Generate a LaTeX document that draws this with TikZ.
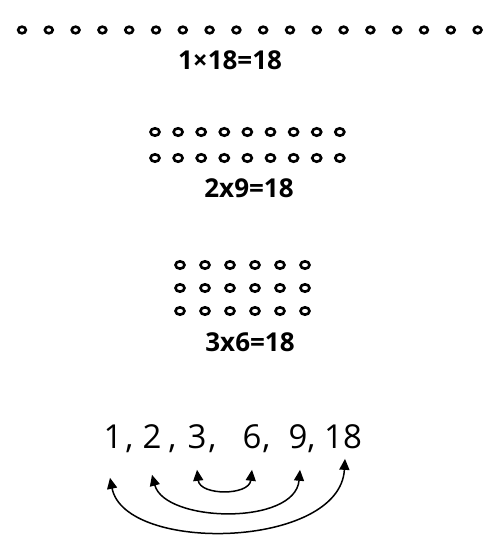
\documentclass[tikz,border=0pt]{standalone}
\usepackage{fontspec}
\setmainfont{Open Sans}
\usetikzlibrary{arrows.meta,positioning}

\begin{document}
\begin{tikzpicture}[x=1pt,y=-1pt,
    dot/.style={line width=2.6pt},
    eqn/.style={font=\fontsize{26}{28}\selectfont\bfseries,inner sep=0pt},
    num/.style={font=\fontsize{33}{35}\selectfont,anchor=base},
    link/.style={{Triangle[length=11pt,width=10pt]}-{Triangle[length=11pt,width=10pt]},line width=1.5pt}]
  \useasboundingbox (0,0) rectangle (487,536);
  % 1 x 18
  \foreach \i in {0,...,17}
    \draw[dot] (22+26.8*\i,30) ellipse (3.9 and 3.3);
  \node[eqn] (eq1) at (230,60) {1×18=18};
  % 2 x 9
  \foreach \r in {0,1}
    \foreach \i in {0,...,8}
      \draw[dot] (155+23.1*\i,132+26*\r) ellipse (4.5 and 3.7);
  \node[eqn] (eq2) at (249,188) {2x9=18};
  % 3 x 6
  \foreach \r in {0,1,2}
    \foreach \i in {0,...,5}
      \draw[dot] (180+25*\i,265+23*\r) ellipse (4.5 and 3.7);
  \node[eqn] (eq3) at (250,342) {3x6=18};
  % factor pairs
  \node[num] (n1) at (113,448) {1\rlap{\hspace{3pt},}};
  \node[num] (n2) at (152,448) {2\rlap{\hspace{7pt},}};
  \node[num] (n3) at (197,448) {3\rlap{\hspace{2pt},}};
  \node[num] (n6) at (252,448) {6\rlap{\hspace{1pt},}};
  \node[num] (n9) at (298,448) {9\rlap{\hspace{0pt},}};
  \node[num] (n18) at (343,448) {18};
  \draw[link] ([yshift=-14pt]n3.south) .. controls +(3,26) and +(-3,26) .. ([yshift=-14pt]n6.south);
  \draw[link] ([yshift=-19pt]n2.south) .. controls +(13,48) and +(-5,56) .. ([xshift=2pt,yshift=-14pt]n9.south);
  \draw[link] ([xshift=-3pt,yshift=-22pt]n1.south) .. controls +(15,76) and +(-5,90) .. ([xshift=2pt,yshift=-7pt]n18.south);
\end{tikzpicture}
\end{document}
